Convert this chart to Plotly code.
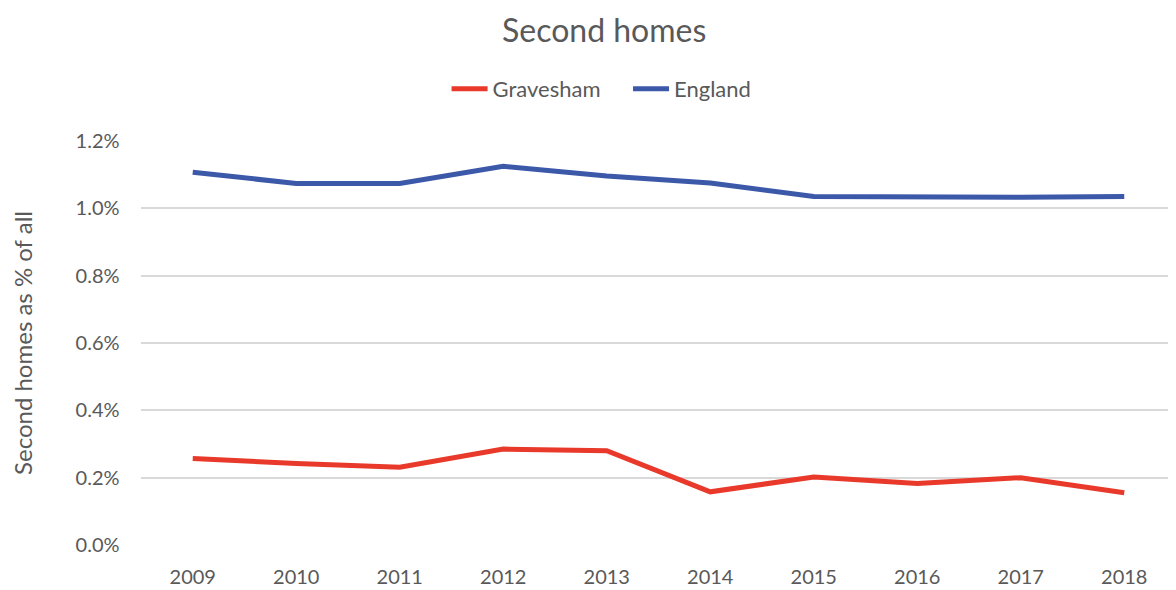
import plotly.graph_objects as go

years = ["2009", "2010", "2011", "2012", "2013", "2014", "2015", "2016", "2017", "2018"]
gravesham = [0.257, 0.242, 0.231, 0.285, 0.280, 0.158, 0.202, 0.183, 0.200, 0.155]
england = [1.107, 1.074, 1.074, 1.125, 1.096, 1.075, 1.035, 1.033, 1.033, 1.035]
gravesham_frac = [v / 100 for v in gravesham]
england_frac = [v / 100 for v in england]

font_fam = "Lato, Open Sans, sans-serif"
grey = "#595959"

fig = go.Figure()
fig.add_trace(go.Scatter(x=years, y=gravesham_frac, mode="lines", name="Gravesham    ",
                         line=dict(color="#E8392B", width=5)))
fig.add_trace(go.Scatter(x=years, y=england_frac, mode="lines", name="England",
                         line=dict(color="#3C58A8", width=5)))

fig.update_layout(
    width=1168, height=582,
    paper_bgcolor="white", plot_bgcolor="white",
    margin=dict(l=133, r=0, t=133, b=45),
    font=dict(family=font_fam, color=grey, size=20),
    legend=dict(orientation="h", x=0.445, xanchor="center", y=1.129, yanchor="middle",
                font=dict(size=22, color=grey), tracegroupgap=0, itemwidth=36),
    showlegend=True,
)
fig.add_annotation(text="Second homes", xref="paper", yref="paper",
                   x=0.447, y=1.275, xanchor="center", yanchor="middle",
                   showarrow=False, borderpad=0,
                   font=dict(size=32, color=grey, family=font_fam))
fig.update_xaxes(type="category", range=[-0.5, 9.5], showgrid=False, showline=False,
                 ticks="", tickfont=dict(size=20, color=grey), ticklabelstandoff=18)
fig.update_yaxes(range=[0, 0.012], dtick=0.002, tickformat=".1%", showgrid=True,
                 gridcolor="#D9D9D9", gridwidth=1.5, zeroline=False, showline=False,
                 ticks="", tickfont=dict(size=20, color=grey), ticksuffix="    ",
                 title=dict(text="Second homes as % of all", font=dict(size=24, color=grey),
                            standoff=40))
fig.write_html("out.html")
